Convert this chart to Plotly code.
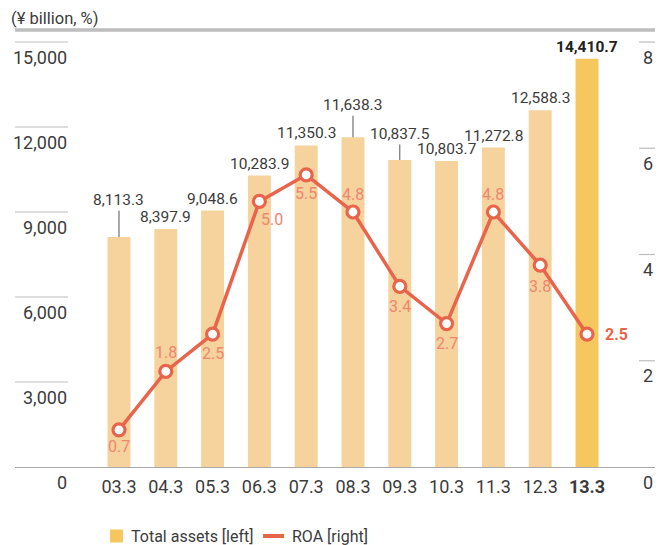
import plotly.graph_objects as go

# ---- data ----
categories = ["03.3", "04.3", "05.3", "06.3", "07.3", "08.3", "09.3", "10.3", "11.3", "12.3", "13.3"]
total_assets = [8113.3, 8397.9, 9048.6, 10283.9, 11350.3, 11638.3, 10837.5, 10803.7, 11272.8, 12588.3, 14410.7]
roa = [0.7, 1.8, 2.5, 5.0, 5.5, 4.8, 3.4, 2.7, 4.8, 3.8, 2.5]
left_ticks = [0, 3000, 6000, 9000, 12000, 15000]
left_tick_labels = ["0", "3,000", "6,000", "9,000", "12,000", "15,000"]
right_ticks = [0, 2, 4, 6, 8]
right_tick_labels = ["0", "2", "4", "6", "8"]

# ---- style ----
FONT = "Roboto, Liberation Sans, Arial, sans-serif"
TXT = "#3c3c3c"
BAR = "#F6D29C"
BAR_HI = "#F6C75E"
LINE = "#E8654B"
LINE_TXT = "#EF8670"
GRID = "#bdbdbd"

# figure geometry (page has an 8px body margin)
FIG_W, FIG_H = 659, 537
L, T, R, B = 7, 22, 12, 78
PW = FIG_W - L - R   # 640
PH = FIG_H - T - B   # 437


def px(fx):   # figure x pixel -> paper
    return (fx - L) / PW


def py(fy):   # figure y pixel -> paper
    return (FIG_H - B - fy) / PH


bar_colors = [BAR] * (len(categories) - 1) + [BAR_HI]
# label offsets for ROA values (dx, dy in px, screen direction)
roa_off = [(0, 17), (0, -19), (0, 19), (13, 18), (0, 19), (0, -18),
           (0, 20), (0, 20), (0, -18), (0, 21), (29, 0)]
# leader-line label offsets (px) for selected bars
leader = {0: -37, 5: -32, 6: -26}

fig = go.Figure()
fig.add_trace(go.Bar(x=categories, y=total_assets, marker=dict(color=bar_colors, line=dict(width=0)),
                     width=0.49, showlegend=False, hoverinfo="skip"))
fig.add_trace(go.Scatter(x=categories, y=roa, yaxis="y2", mode="lines+markers",
                         line=dict(color=LINE, width=3.5),
                         marker=dict(size=12, color="white", line=dict(color=LINE, width=3.2)),
                         showlegend=False, hoverinfo="skip", cliponaxis=False))

annotations = []
# bar value labels
for i, v in enumerate(total_assets):
    last = i == len(categories) - 1
    txt = f"{v:,.1f}"
    if last:
        txt = f"<b>{txt}</b>"
    fnt = dict(family=FONT, size=15.5, color="#222" if last else TXT)
    if i in leader:
        annotations.append(dict(x=i, y=v, xref="x", yref="y", text=txt, showarrow=True,
                                arrowhead=0, arrowwidth=1, arrowcolor="#555", ax=0, ay=leader[i],
                                standoff=0, font=fnt))
    else:
        annotations.append(dict(x=i, y=v, xref="x", yref="y", text=txt, showarrow=False,
                                yanchor="bottom", yshift=1, font=fnt))

# ROA value labels
for i, v in enumerate(roa):
    last = i == len(roa) - 1
    dx, dy = roa_off[i]
    txt = f"<b>{v:.1f}</b>" if last else f"{v:.1f}"
    annotations.append(dict(x=i, y=v, xref="x", yref="y2", text=txt, showarrow=False,
                            xshift=dx, yshift=-dy, xanchor="center", yanchor="middle",
                            font=dict(family=FONT, size=16, color=LINE if last else LINE_TXT)))

shapes = []
for t, lab in zip(left_ticks, left_tick_labels):
    if t != 0:
        shapes.append(dict(type="line", xref="paper", yref="y", x0=0, x1=53 / PW, y0=t, y1=t,
                           line=dict(color=GRID, width=1.2)))
    annotations.append(dict(x=54 / PW, y=t, xref="paper", yref="y", text=lab, showarrow=False,
                            xanchor="right", yanchor="middle", yshift=-15,
                            font=dict(family=FONT, size=18, color=TXT)))
for t, lab in zip(right_ticks, right_tick_labels):
    if t != 0:
        shapes.append(dict(type="line", xref="paper", yref="y2", x0=624 / PW, x1=1, y0=t, y1=t,
                           line=dict(color=GRID, width=1.2)))
    annotations.append(dict(x=640 / PW, y=t, xref="paper", yref="y2", text=lab, showarrow=False,
                            xanchor="right", yanchor="middle", yshift=-15,
                            font=dict(family=FONT, size=18, color=TXT)))
# top thick rule
shapes.append(dict(type="line", xref="paper", yref="paper", x0=0, x1=1, y0=1, y1=1,
                   line=dict(color=GRID, width=3.5)))
annotations.append(dict(x=px(1), y=py(10), xref="paper", yref="paper", text="(¥ billion, %)",
                        showarrow=False, xanchor="left", yanchor="middle",
                        font=dict(family=FONT, size=16.5, color=TXT)))

# manual legend
LEG_Y = 528
shapes.append(dict(type="rect", xref="paper", yref="paper", x0=px(102), x1=px(115),
                   y0=py(LEG_Y - 6.5), y1=py(LEG_Y + 6.5), fillcolor=BAR_HI, line=dict(width=0)))
annotations.append(dict(x=px(121), y=py(LEG_Y), xref="paper", yref="paper", text="Total assets [left]",
                        showarrow=False, xanchor="left", yanchor="middle",
                        font=dict(family=FONT, size=16, color=TXT)))
shapes.append(dict(type="line", xref="paper", yref="paper", x0=px(255), x1=px(276),
                   y0=py(LEG_Y), y1=py(LEG_Y), line=dict(color=LINE, width=4)))
annotations.append(dict(x=px(282), y=py(LEG_Y), xref="paper", yref="paper", text="ROA [right]",
                        showarrow=False, xanchor="left", yanchor="middle",
                        font=dict(family=FONT, size=16, color=TXT)))

ticktext = categories[:-1] + [f"<b>{categories[-1]}</b>"]

fig.update_layout(
    width=FIG_W, height=FIG_H,
    margin=dict(l=L, r=R, t=T, b=B, autoexpand=False),
    paper_bgcolor="white", plot_bgcolor="white",
    font=dict(family=FONT, color=TXT),
    showlegend=False,
    xaxis=dict(type="category", range=[-2.222, 11.453], tickmode="array", tickvals=categories,
               ticktext=ticktext, tickfont=dict(family=FONT, size=18, color=TXT),
               ticklabelstandoff=3,
               showline=True, linecolor="#aaaaaa", linewidth=1.2, showgrid=False, ticks="",
               fixedrange=True),
    yaxis=dict(range=[0, 15423.5], showgrid=False, showticklabels=False, zeroline=False,
               fixedrange=True),
    yaxis2=dict(range=[0, 8.226], overlaying="y", side="right", showgrid=False,
                showticklabels=False, zeroline=False, fixedrange=True),
    shapes=shapes, annotations=annotations,
)

fig.write_html("out.html")
